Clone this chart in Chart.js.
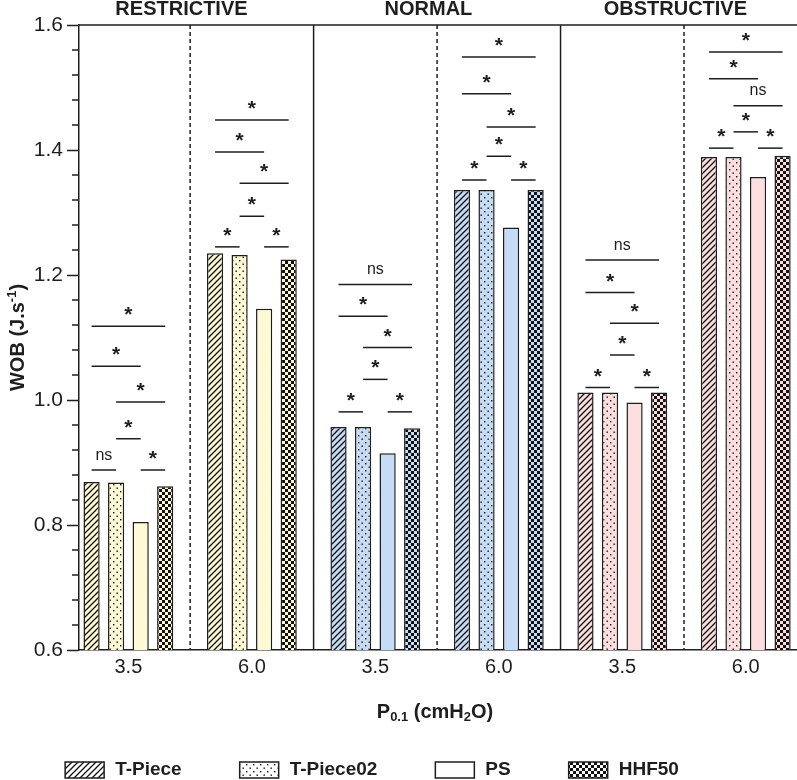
<!DOCTYPE html>
<html lang="en">
<head>
<meta charset="UTF-8">
<title>WOB vs P0.1</title>
<script src="https://cdn.jsdelivr.net/npm/chart.js@4"></script>
<style>
    html, body { margin: 0; padding: 0; background: #fff; overflow: hidden; }
    #wrap { width: 797px; height: 780px; position: relative; }
</style>
</head>
<body>
<div id="wrap"><canvas id="wobChart"></canvas></div>
<script>
// groups along x: two P0.1 levels inside each condition
const pLabels = ['3.5', '6.0', '3.5', '6.0', '3.5', '6.0'];
const conditions = ['RESTRICTIVE', 'NORMAL', 'OBSTRUCTIVE'];
const seriesNames = ['T-Piece', 'T-Piece02', 'PS', 'HHF50'];
const tPiece   = [0.869, 1.235, 0.957, 1.336, 1.012, 1.389];
const tPiece02 = [0.868, 1.232, 0.957, 1.336, 1.012, 1.389];
const ps       = [0.805, 1.146, 0.915, 1.276, 0.996, 1.357];
const hhf50    = [0.862, 1.225, 0.955, 1.336, 1.012, 1.391];
const yTicks = [0.6, 0.8, 1.0, 1.2, 1.4, 1.6];

// pairwise comparisons (bar index pairs), bracket heights and labels per group
const pairs = [[0, 1], [2, 3], [1, 2], [1, 3], [0, 2], [0, 3]];
const sigHeights = [
    [0.888, 0.888, 0.938, 0.997, 1.054, 1.118],
    [1.245, 1.245, 1.294, 1.347, 1.397, 1.448],
    [0.981, 0.981, 1.033, 1.084, 1.134, 1.185],
    [1.352, 1.352, 1.390, 1.437, 1.490, 1.549],
    [1.020, 1.020, 1.072, 1.123, 1.172, 1.224],
    [1.403, 1.403, 1.429, 1.471, 1.514, 1.557]
];
const sigLabels = [
    ['ns', '*', '*', '*', '*', '*'],
    ['*', '*', '*', '*', '*', '*'],
    ['*', '*', '*', '*', '*', 'ns'],
    ['*', '*', '*', '*', '*', '*'],
    ['*', '*', '*', '*', '*', 'ns'],
    ['*', '*', '*', 'ns', '*', '*']
];

const FONT = '"Liberation Sans", Arial, sans-serif';
const INK = '#1e1e1e';
const condColors = ['#fffad6', '#c6dbf4', '#fddede'];
const kinds = ['hatch', 'dots', 'plain', 'check'];

const canvas = document.getElementById('wobChart');
const mainCtx = canvas.getContext('2d');

// tile patterns for the bar fills
function makePattern(kind, bg) {
    if (kind === 'plain') return bg;
    const s = kind === 'dots' ? 7 : 6;
    const tile = document.createElement('canvas');
    tile.width = s; tile.height = s;
    const g = tile.getContext('2d');
    g.fillStyle = bg;
    g.fillRect(0, 0, s, s);
    g.fillStyle = '#111';
    g.strokeStyle = '#111';
    if (kind === 'hatch') {
        g.lineWidth = 1.3;
        g.beginPath();
        g.moveTo(-1, s + 1); g.lineTo(s + 1, -1);
        g.moveTo(-1, 1); g.lineTo(1, -1);
        g.moveTo(s - 1, s + 1); g.lineTo(s + 1, s - 1);
        g.stroke();
    } else if (kind === 'dots') {
        g.fillRect(1, 1, 1.4, 1.4);
        g.fillRect(4.5, 4.5, 1.4, 1.4);
    } else if (kind === 'check') {
        g.fillRect(0, 0, 3, 3);
        g.fillRect(3, 3, 3, 3);
    }
    return mainCtx.createPattern(tile, 'repeat');
}

const barFills = condColors.map(c => kinds.map(k => makePattern(k, c)));
const legendFills = kinds.map(k => makePattern(k, '#ffffff'));

const seriesValues = [tPiece, tPiece02, ps, hhf50];
const datasets = seriesValues.map((vals, d) => ({
    label: seriesNames[d],
    data: vals.map((v, i) => ({ x: i, y: v })),
    backgroundColor: ctx => ctx.type === 'data'
        ? barFills[Math.floor(ctx.dataIndex / 2)][d]
        : legendFills[d],
    borderColor: INK,
    borderWidth: 1.5,
    categoryPercentage: 0.795,
    barPercentage: 0.66
}));

// draws rich text with sub/superscripts, centred at 0,0 of current transform
function richText(ctx, parts) {
    let w = 0;
    parts.forEach(p => { ctx.font = p.font; p.w = ctx.measureText(p.t).width; w += p.w; });
    let cx = -w / 2;
    parts.forEach(p => {
        ctx.font = p.font;
        ctx.fillText(p.t, cx, p.dy || 0);
        cx += p.w;
    });
}

const decor = {
    id: 'decor',
    afterDatasetsDraw(chart) {
        const { ctx, chartArea: a, scales: { x, y } } = chart;
        ctx.save();
        ctx.strokeStyle = INK;
        ctx.fillStyle = INK;
        ctx.lineWidth = 1.5;

        // top frame line
        ctx.beginPath();
        ctx.moveTo(a.left, a.top);
        ctx.lineTo(a.right, a.top);
        ctx.stroke();

        // minor y ticks
        for (let k = 0; k < yTicks.length - 1; k++) {
            for (let m = 1; m < 5; m++) {
                const py = y.getPixelForValue(yTicks[k] + (yTicks[k + 1] - yTicks[k]) * m / 5);
                ctx.beginPath();
                ctx.moveTo(a.left - 7, py);
                ctx.lineTo(a.left, py);
                ctx.stroke();
            }
        }

        // separators: dashed inside a condition, solid between conditions
        for (let i = 0; i < pLabels.length - 1; i++) {
            const px = x.getPixelForValue(i + 0.5);
            ctx.setLineDash(i % 2 === 0 ? [4, 3] : []);
            ctx.beginPath();
            ctx.moveTo(px, a.top);
            ctx.lineTo(px, a.bottom);
            ctx.stroke();
        }
        ctx.setLineDash([]);

        // significance brackets
        ctx.textAlign = 'center';
        ctx.textBaseline = 'alphabetic';
        pLabels.forEach((_, g) => {
            pairs.forEach((pr, k) => {
                const x1 = chart.getDatasetMeta(pr[0]).data[g].x;
                const x2 = chart.getDatasetMeta(pr[1]).data[g].x;
                const py = y.getPixelForValue(sigHeights[g][k]);
                ctx.beginPath();
                ctx.moveTo(x1, py);
                ctx.lineTo(x2, py);
                ctx.stroke();
                const t = sigLabels[g][k];
                ctx.font = t === 'ns' ? '16px ' + FONT : 'bold 21px ' + FONT;
                const m = ctx.measureText(t);
                const cy = py - 15;
                ctx.fillText(t, (x1 + x2) / 2, cy + (m.actualBoundingBoxAscent - m.actualBoundingBoxDescent) / 2);
            });
        });

        // condition titles
        ctx.font = 'bold 20px ' + FONT;
        ctx.textBaseline = 'middle';
        conditions.forEach((c, k) => {
            ctx.fillText(c, x.getPixelForValue(k * 2 + 0.43), 9);
        });

        // y axis title
        ctx.textAlign = 'left';
        ctx.save();
        ctx.translate(18, (a.top + a.bottom) / 2);
        ctx.rotate(-Math.PI / 2);
        richText(ctx, [
            { t: 'WOB (J.s', font: 'bold 20px ' + FONT },
            { t: '-1', font: 'bold 13px ' + FONT, dy: -6 },
            { t: ')', font: 'bold 20px ' + FONT }
        ]);
        ctx.restore();

        // x axis title
        ctx.save();
        ctx.translate((a.left + a.right) / 2 - 3, 712);
        richText(ctx, [
            { t: 'P', font: 'bold 20px ' + FONT },
            { t: '0.1', font: 'bold 13px ' + FONT, dy: 5 },
            { t: ' (cmH', font: 'bold 20px ' + FONT },
            { t: '2', font: 'bold 13px ' + FONT, dy: 5 },
            { t: 'O)', font: 'bold 20px ' + FONT }
        ]);
        ctx.restore();

        // legend
        const boxW = 39, boxH = 16, textGap = 11, itemGap = 58, ly = 770;
        ctx.font = 'bold 19px ' + FONT;
        const widths = seriesNames.map(n => boxW + textGap + ctx.measureText(n).width);
        const total = widths.reduce((s, w) => s + w, 0) + itemGap * (seriesNames.length - 1);
        let lx = 372 - total / 2;
        seriesNames.forEach((n, d) => {
            ctx.fillStyle = legendFills[d];
            ctx.fillRect(lx, ly - boxH / 2, boxW, boxH);
            ctx.strokeRect(lx, ly - boxH / 2, boxW, boxH);
            ctx.fillStyle = INK;
            ctx.fillText(n, lx + boxW + textGap, ly);
            lx += widths[d] + itemGap;
        });

        ctx.restore();
    }
};

new Chart(canvas, {
    type: 'bar',
    data: { datasets },
    options: {
        responsive: true,
        maintainAspectRatio: false,
        animation: false,
        layout: { padding: { top: 25, bottom: 50, left: 0, right: 0 } },
        plugins: {
            legend: { display: false },
            tooltip: { enabled: false }
        },
        scales: {
            x: {
                type: 'linear',
                offset: false,
                min: -0.4,
                max: 5.415,
                afterBuildTicks: s => { s.ticks = pLabels.map((_, i) => ({ value: i })); },
                afterFit: s => { s.height = 80; },
                ticks: {
                    callback: v => pLabels[v],
                    font: { family: FONT, size: 20 },
                    color: INK,
                    padding: 5,
                    autoSkip: false,
                    maxRotation: 0
                },
                grid: { display: false, drawTicks: false },
                border: { display: true, color: INK, width: 1.5 }
            },
            y: {
                min: 0.6,
                max: 1.6,
                afterBuildTicks: s => { s.ticks = yTicks.map(v => ({ value: v })); },
                afterFit: s => { s.width = 79; },
                ticks: {
                    callback: v => v.toFixed(1),
                    font: { family: FONT, size: 21 },
                    color: INK,
                    padding: 4
                },
                grid: {
                    display: true,
                    drawOnChartArea: false,
                    drawTicks: true,
                    tickLength: 12,
                    tickColor: INK,
                    tickWidth: 1.5
                },
                border: { display: true, color: INK, width: 1.5 }
            }
        }
    },
    plugins: [decor]
});
</script>
</body>
</html>
